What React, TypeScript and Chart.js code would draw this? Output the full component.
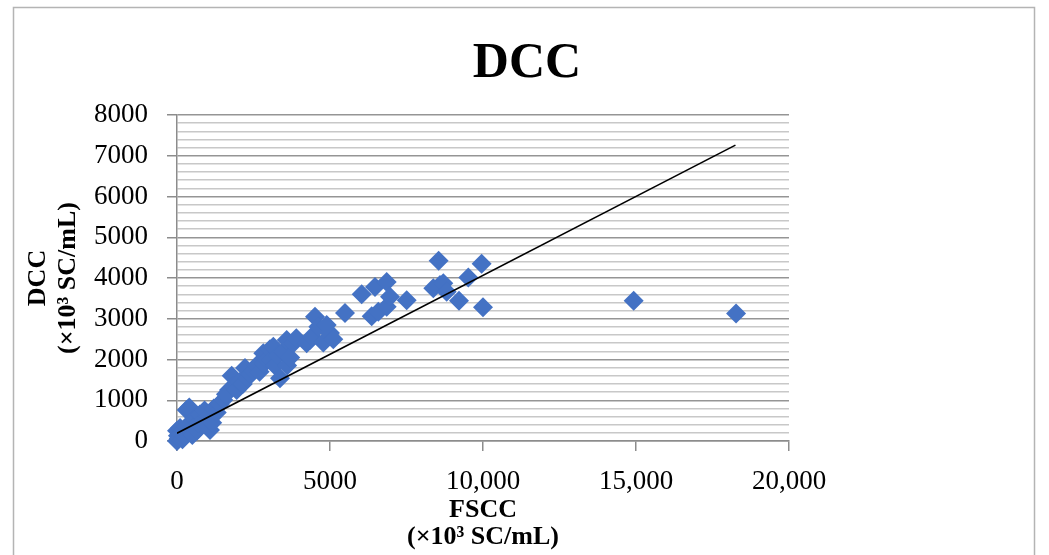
import React, { useEffect, useRef } from "react";
import { Chart, registerables } from "chart.js";

Chart.register(...registerables);

const fscc = [
  0, 30, 0, 60, 100, 120, 180, 200, 250, 300, 316, 400, 450, 500, 600, 650, 700, 750, 850, 900,
  1000, 1078, 1150, 1200, 1300, 1400, 1514, 1600, 1700, 1787, 1850, 1950, 2050, 2150, 2222, 2300,
  2400, 2500, 2600, 2700, 2820, 2850, 2950, 3039, 3100, 3148, 3200, 3300, 3366, 3475, 3585, 3600,
  3700, 3802, 3900, 4238, 4346, 4401, 4510, 4618, 4782, 4891, 5000, 5109, 5490, 6035, 6362, 6470,
  6578, 6853, 6853, 6961, 7506, 8377, 8550, 8595, 8704, 8813, 9216, 9521, 9956, 10000, 14925, 18270,
];
const dcc = [
  0, 130, 250, 60, 320, 180, 40, 250, 120, 350, 760, 820, 300, 150, 550, 250, 450, 650, 500, 750,
  600, 270, 450, 800, 700, 900, 1006, 1150, 1250, 1600, 1350, 1251, 1450, 1400, 1790, 1550,
  1650, 1720, 1850, 1700, 2152, 1900, 2000, 2250, 1988, 2314, 1850, 2100, 1540, 2191, 2478, 1850,
  2050, 2400, 2520, 2397, 2478, 2560, 3050, 2806, 2420, 2847, 2650, 2500, 3140, 3600, 3060, 3780,
  3173, 3296, 3900, 3541, 3455, 3747, 4425, 3828, 3870, 3665, 3443, 4010, 4350, 3280, 3443, 3130,
];
const trendX = [0, 18250];
const trendY = [190, 7260];
const xTickLabels = ["0", "5000", "10,000", "15,000", "20,000"];
const yMajorStep = 1000;
const yMinorStep = 200;
const chartTitle = "DCC";

const serif = "'Liberation Serif', 'Times New Roman', serif";

const frame = {
  id: "frame",
  afterDraw(chart: any) {
    const ctx = chart.ctx;
    ctx.save();
    ctx.strokeStyle = "#b4b4b4";
    ctx.lineWidth = 1.5;
    ctx.strokeRect(13.5, 7.5, 1021, 600);
    ctx.fillStyle = "#000000";
    ctx.font = `bold 50px ${serif}`;
    ctx.textAlign = "center";
    ctx.textBaseline = "middle";
    ctx.fillText(chartTitle, 527, 64);
    ctx.restore();
  },
};

export default function App() {
  const ref = useRef<HTMLCanvasElement | null>(null);
  useEffect(() => {
    if (!ref.current) return;
    const points = fscc.map((x, i) => ({ x, y: dcc[i] }));
    const trend = trendX.map((x, i) => ({ x, y: trendY[i] }));
    const chart = new Chart(ref.current, {
      type: "scatter",
      data: {
        datasets: [
          {
            type: "line",
            label: "Trend",
            data: trend,
            borderColor: "#000000",
            borderWidth: 1.6,
            pointRadius: 0,
            fill: false,
            order: 0,
          } as any,
          {
            label: "DCC",
            data: points,
            pointStyle: "rectRot",
            pointRadius: 10,
            backgroundColor: "#4472C4",
            borderColor: "#4472C4",
            borderWidth: 0,
            clip: false,
            order: 1,
          },
        ],
      },
      plugins: [frame],
      options: {
        responsive: false,
        animation: false,
        layout: { padding: { left: 0, right: 260, top: 115, bottom: 0 } },
        plugins: {
          legend: { display: false },
          tooltip: { enabled: false },
          title: { display: false },
        },
        scales: {
          x: {
            type: "linear",
            min: 0,
            max: 20000,
            afterFit: (s: any) => {
              s.height = 114;
            },
            ticks: {
              stepSize: 5000,
              padding: 15,
              color: "#000000",
              font: { family: serif, size: 27, lineHeight: 1.2 },
              callback: (v: any, i: number) => xTickLabels[i] ?? "",
              maxRotation: 0,
              autoSkip: false,
            },
            grid: {
              drawOnChartArea: false,
              drawTicks: true,
              tickLength: 10,
              color: "#8c8c8c",
              lineWidth: 1.5,
            },
            border: { display: true, color: "#8c8c8c", width: 1.5 },
            title: {
              display: true,
              text: ["FSCC", "(×10³ SC/mL)"],
              color: "#000000",
              font: { family: serif, size: 26, weight: "bold", lineHeight: 1.05 },
              padding: { top: 0, bottom: 4 },
            },
          },
          y: {
            type: "linear",
            min: 0,
            max: 8000,
            afterFit: (s: any) => {
              s.width = 177;
            },
            ticks: {
              stepSize: yMinorStep,
              padding: 19,
              autoSkip: false,
              color: "#000000",
              font: { family: serif, size: 27, lineHeight: 1.2 },
              callback: (v: any) => (Number(v) % yMajorStep === 0 ? String(v) : ""),
            },
            grid: {
              drawTicks: true,
              tickLength: 10,
              color: (c: any) => (c.tick && c.tick.value % yMajorStep === 0 ? "#959595" : "#c8c8c8"),
              tickColor: (c: any) =>
                c.tick && c.tick.value % yMajorStep === 0 ? "#8c8c8c" : "rgba(0,0,0,0)",
              lineWidth: 1.5,
            },
            border: { display: true, color: "#8c8c8c", width: 1.5 },
            title: {
              display: true,
              text: ["DCC", "(×10³ SC/mL)"],
              color: "#000000",
              font: { family: serif, size: 26, weight: "bold", lineHeight: 1.13 },
              padding: { top: 24, bottom: 0 },
            },
          },
        },
      },
    });
    return () => chart.destroy();
  }, []);
  return (
    <div style={{ position: "fixed", left: 0, top: 0, width: 1049, height: 555, background: "#ffffff" }}>
      <canvas ref={ref} width={1049} height={555} style={{ width: 1049, height: 555, display: "block" }} />
    </div>
  );
}
